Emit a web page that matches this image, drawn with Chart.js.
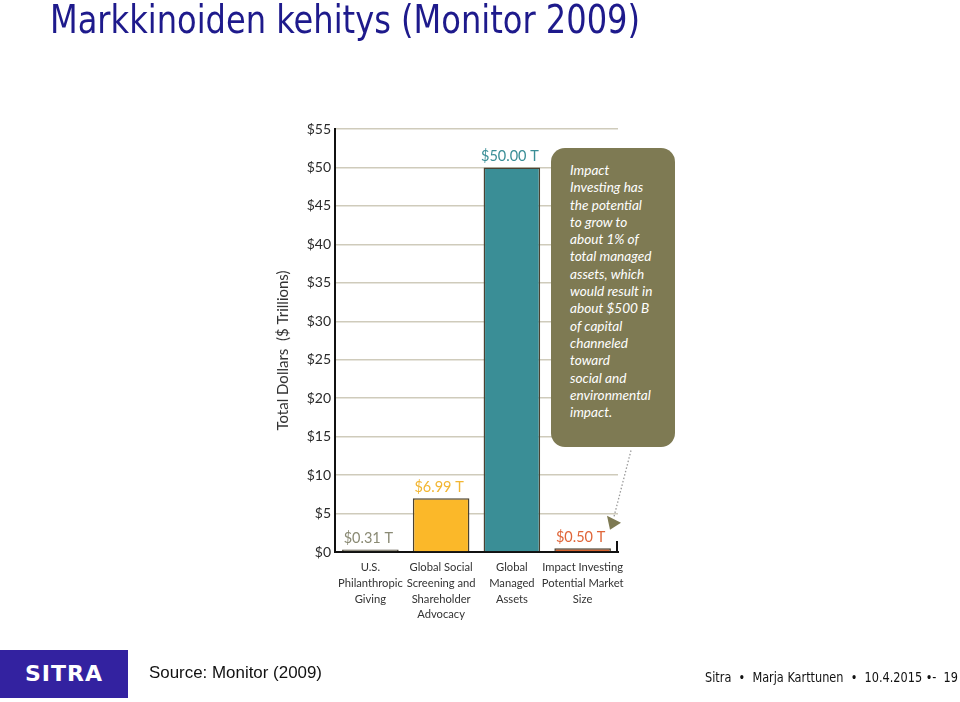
<!DOCTYPE html>
<html>
<head>
<meta charset="utf-8">
<script src="https://cdn.jsdelivr.net/npm/chart.js@4.4.0/dist/chart.umd.min.js"></script>
<style>
  html, body { margin:0; padding:0; background:#fff; }
  #wrap { position:relative; width:960px; height:702px; overflow:hidden; }
  #c { position:absolute; left:0; top:0; }
  .fit { position:absolute; white-space:nowrap; transform-origin:0 0; }
  #title { left:50px; top:-3px; font-family:"DejaVu Sans Condensed","DejaVu Sans",sans-serif; font-size:39px; color:#1E1A8C; }
  #callout { position:absolute; left:551px; top:148px; width:124px; height:299px; background:#7E7A53; border-radius:14px;
    color:#fff; font-family:Lato, "Open Sans", sans-serif; font-style:italic; font-size:13.6px; line-height:17.3px; box-sizing:border-box; padding:14px 0 0 19px; }
  #logo { position:absolute; left:0; top:650px; width:128px; height:48px; background:#3322A0; color:#fff;
    font-family:"DejaVu Sans", sans-serif; font-weight:bold; font-size:22px; letter-spacing:1px; text-align:center; line-height:48px; }
  #source { left:149px; top:663px; font-family:"Liberation Sans", Arial, sans-serif; font-size:17px; color:#111; }
  #foot { left:705px; top:669px; font-family:"DejaVu Sans Condensed","DejaVu Sans",sans-serif; font-size:13.5px; color:#111; }
</style>
</head>
<body>
<div id="wrap">
  <canvas id="c" width="960" height="702"></canvas>
  <div id="title" class="fit" data-w="590">Markkinoiden kehitys (Monitor 2009)</div>
  <div id="callout">Impact<br>Investing has<br>the potential<br>to grow to<br>about 1% of<br>total managed<br>assets, which<br>would result in<br>about $500 B<br>of capital<br>channeled<br>toward<br>social and<br>environmental<br>impact.</div>
  <div id="logo">SITRA</div>
  <div id="source" class="fit" data-w="173">Source: Monitor (2009)</div>
  <div id="foot" class="fit" data-w="253">Sitra &nbsp;•&nbsp; Marja Karttunen &nbsp;•&nbsp; 10.4.2015 •- &nbsp;19</div>
</div>
<script>
// ---- data ----
const categories = [
  ["U.S.", "Philanthropic", "Giving"],
  ["Global Social", "Screening and", "Shareholder", "Advocacy"],
  ["Global", "Managed", "Assets"],
  ["Impact Investing", "Potential Market", "Size"]
];
const valuesTrillions = [0.31, 6.99, 50.00, 0.50];
const yTickValues = [0, 5, 10, 15, 20, 25, 30, 35, 40, 45, 50, 55];
const barColors = ["#7C7A66", "#FBB829", "#3A8E96", "#D5622E"];
const labelColors = ["#8A8A74", "#F2B632", "#3A8E96", "#E0663A"];
const axisTitle = "Total Dollars  ($ Trillions)";

// fit text widths
document.querySelectorAll('.fit[data-w]').forEach(el => {
  const w = el.getBoundingClientRect().width;
  const target = parseFloat(el.dataset.w);
  el.style.transform = 'scaleX(' + (target / w) + ')';
});

const valueLabels = {
  id: 'valueLabels',
  afterDatasetsDraw(chart) {
    const ctx = chart.ctx;
    const meta = chart.getDatasetMeta(0);
    const a = chart.chartArea;
    const ys = chart.scales.y;
    ctx.save();
    ctx.font = '14.5px Lato, "Open Sans", sans-serif';
    ctx.textAlign = 'center';
    ctx.textBaseline = 'bottom';
    meta.data.forEach((bar, i) => {
      ctx.fillStyle = labelColors[i];
      ctx.fillText('$' + valuesTrillions[i].toFixed(2) + ' T', bar.x - 2, bar.y - 4);
    });
    // y-axis title
    ctx.save();
    ctx.translate(a.left - 52, (a.top + a.bottom) / 2 + 10);
    ctx.rotate(-Math.PI / 2);
    ctx.textBaseline = 'middle';
    ctx.fillStyle = '#333';
    ctx.font = '15px Lato, "Open Sans", sans-serif';
    ctx.fillText(axisTitle, 0, 0);
    ctx.restore();
    // right end tick of x axis
    ctx.strokeStyle = '#111';
    ctx.lineWidth = 2;
    ctx.beginPath();
    ctx.moveTo(a.right - 1, a.bottom);
    ctx.lineTo(a.right - 1, a.bottom - 11);
    ctx.stroke();
    // dotted callout pointer
    const tipX = a.right + 3, tipY = ys.getPixelForValue(3.8);
    ctx.strokeStyle = '#999';
    ctx.lineWidth = 1.3;
    ctx.setLineDash([1.5, 2]);
    ctx.beginPath();
    ctx.moveTo(a.right + 13, ys.getPixelForValue(13.2));
    ctx.lineTo(a.right - 4, ys.getPixelForValue(4.6));
    ctx.stroke();
    ctx.setLineDash([]);
    ctx.fillStyle = '#7E7A53';
    ctx.beginPath();
    ctx.moveTo(tipX, tipY);
    ctx.lineTo(tipX - 14, tipY - 7);
    ctx.lineTo(tipX - 11, tipY + 7);
    ctx.closePath();
    ctx.fill();
    ctx.restore();
  }
};

new Chart(document.getElementById('c'), {
  type: 'bar',
  data: {
    labels: categories,
    datasets: [{
      data: valuesTrillions,
      backgroundColor: barColors,
      borderColor: '#4A4232',
      borderWidth: 1.5,
      borderSkipped: 'bottom',
      barPercentage: 0.8,
      categoryPercentage: 1.0
    }]
  },
  options: {
    responsive: false,
    animation: false,
    layout: { padding: { left: 270, right: 342, top: 129, bottom: 70 } },
    plugins: { legend: { display: false }, tooltip: { enabled: false } },
    scales: {
      y: {
        min: 0, max: 55,
        afterFit(s) { s.width = 65; },
        afterBuildTicks(s) { s.ticks = yTickValues.map(v => ({ value: v })); },
        ticks: {
          padding: 4,
          color: '#2a2a2a',
          font: { family: 'Lato, "Open Sans", sans-serif', size: 14 },
          callback: v => '$' + v
        },
        grid: { color: '#CFCBBB', lineWidth: 1.5, drawTicks: false },
        border: { display: true, color: '#111', width: 2 }
      },
      x: {
        afterFit(s) { s.height = 80; },
        grid: { display: false, drawTicks: false },
        border: { display: true, color: '#111', width: 2 },
        ticks: {
          padding: 8,
          color: '#333',
          maxRotation: 0,
          autoSkip: false,
          font: { family: 'Lato, "Open Sans", sans-serif', size: 11.2, lineHeight: 1.4 }
        }
      }
    }
  },
  plugins: [valueLabels]
});
</script>
</body>
</html>
